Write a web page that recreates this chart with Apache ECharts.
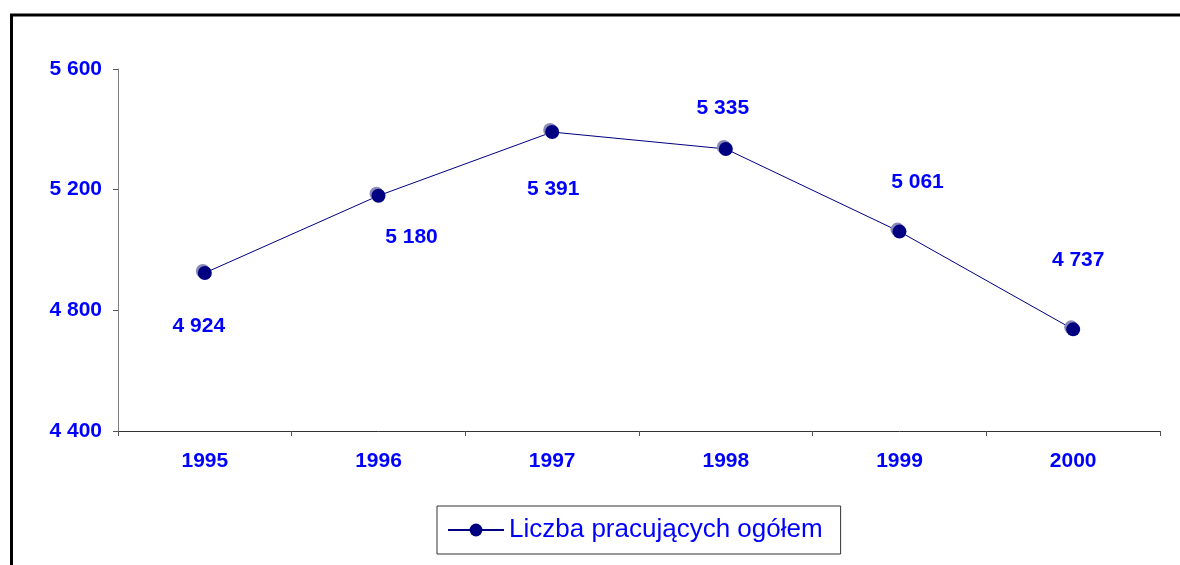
<!DOCTYPE html>
<html><head><meta charset="utf-8">
<script src="https://cdn.jsdelivr.net/npm/echarts@6/dist/echarts.min.js"></script>
<style>html,body{margin:0;padding:0;background:#fff}#c{width:1180px;height:565px}</style>
</head><body><div id="c"></div>
<script>
const categories = ['1995','1996','1997','1998','1999','2000'];
const values = [4924, 5180, 5391, 5335, 5061, 4737];
const seriesName = 'Liczba pracujących ogółem';
const yTicks = {min: 4400, max: 5600, interval: 400};

// label placement (style only)
const labelPlacement = [
  {position: 'bottom', offset: [-6, 31]},
  {position: 'bottom', offset: [33, 19]},
  {position: 'bottom', offset: [1, 35]},
  {position: 'top', offset: [-3, -18]},
  {position: 'top', offset: [18, -27]},
  {position: 'top', offset: [5, -47]}
];

const fmt = v => String(v).replace(/\B(?=(\d{3})+(?!\d))/g, ' ');
const font = '"Liberation Sans", Arial, sans-serif';

const chart = echarts.init(document.getElementById('c'));
chart.setOption({
  animation: false,
  backgroundColor: '#fff',
  grid: {left: 118, right: 20, top: 69, bottom: 134},
  graphic: [
    {type: 'line', shape: {x1: 10, y1: 15, x2: 1180, y2: 15}, style: {stroke: '#000', lineWidth: 3}},
    {type: 'line', shape: {x1: 11.5, y1: 14, x2: 11.5, y2: 565}, style: {stroke: '#000', lineWidth: 3}}
  ],
  xAxis: {
    type: 'category', data: categories, boundaryGap: true,
    axisLine: {lineStyle: {color: '#333', width: 1}},
    axisTick: {show: true, length: 5, lineStyle: {color: '#555'}},
    axisLabel: {color: '#0000ff', fontWeight: 'bold', fontSize: 21, fontFamily: font, margin: 20},
    splitLine: {show: false}
  },
  yAxis: {
    type: 'value', min: yTicks.min, max: yTicks.max, interval: yTicks.interval,
    axisLine: {show: true, lineStyle: {color: '#808080', width: 1}},
    axisTick: {show: true, length: 5, lineStyle: {color: '#555'}},
    axisLabel: {color: '#0000ff', fontWeight: 'bold', fontSize: 21, fontFamily: font, margin: 16, formatter: fmt},
    splitLine: {show: false}
  },
  legend: {
    show: true, left: 437, top: 506,
    padding: [11, 18, 11, 10],
    borderColor: '#333', borderWidth: 1,
    itemWidth: 56, itemHeight: 16,
    textStyle: {color: '#0000ff', fontSize: 26, fontFamily: font},
    data: [seriesName]
  },
  series: [{
    name: seriesName, type: 'line',
    data: values.map((v, i) => ({
      value: v,
      label: {show: true, position: labelPlacement[i].position, offset: labelPlacement[i].offset}
    })),
    symbol: 'circle', symbolSize: 14,
    lineStyle: {color: '#000080', width: 1},
    itemStyle: {color: '#000080', borderColor: '#000080', borderWidth: 0,
      shadowColor: '#8a8ab8', shadowOffsetX: -2, shadowOffsetY: -2, shadowBlur: 0},
    label: {color: '#0000ff', fontWeight: 'bold', fontSize: 21, fontFamily: font, formatter: p => fmt(p.value)}
  }]
});
</script></body></html>
